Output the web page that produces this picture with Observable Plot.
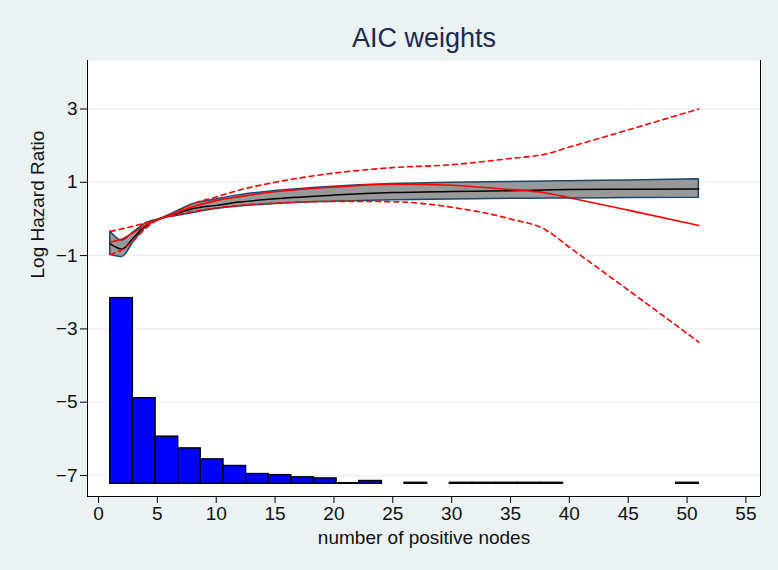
<!DOCTYPE html>
<html>
<head>
<meta charset="utf-8">
<script src="https://cdn.jsdelivr.net/npm/d3@7"></script>
<script src="https://cdn.jsdelivr.net/npm/@observablehq/plot@0.6"></script>
<style>
  html, body { margin: 0; padding: 0; background: #eaf2f3; }
</style>
</head>
<body>
<div id="chart"></div>
<script>
// Curve x positions (number of positive nodes)
const xs     = [1, 2, 3, 4, 5.2, 6.5, 8, 10, 12, 15, 20, 25, 30, 35, 38, 40, 45, 51];
// Model-averaged (AIC weights) estimate and its band
const fit    = [-0.68, -0.82, -0.50, -0.18, 0, 0.13, 0.28, 0.37, 0.46, 0.55, 0.65, 0.72, 0.75, 0.77, 0.79, 0.80, 0.81, 0.82];
const fitLo  = [-0.98, -1.04, -0.62, -0.24, 0, 0.07, 0.16, 0.27, 0.34, 0.41, 0.47, 0.51, 0.53, 0.55, 0.56, 0.56, 0.57, 0.58];
const fitHi  = [-0.34, -0.59, -0.36, -0.12, 0, 0.18, 0.40, 0.53, 0.65, 0.76, 0.88, 0.95, 0.99, 1.01, 1.02, 1.03, 1.05, 1.08];
// Single spline model estimate and its confidence limits
const rcs    = [-0.63, -0.55, -0.36, -0.17, 0, 0.15, 0.33, 0.50, 0.61, 0.74, 0.87, 0.95, 0.92, 0.80, 0.71, 0.58, 0.24, -0.18];
const rcsHi  = [-0.34, -0.27, -0.19, -0.11, 0, 0.17, 0.41, 0.60, 0.79, 1.00, 1.25, 1.40, 1.48, 1.65, 1.77, 1.96, 2.43, 3.00];
const rcsLo  = [-0.97, -0.84, -0.58, -0.26, 0, 0.10, 0.20, 0.30, 0.37, 0.43, 0.48, 0.47, 0.32, 0.00, -0.30, -0.77, -1.94, -3.36];

// Histogram of the covariate (rescaled to the y axis)
const binEdges = [1, 2.92, 4.85, 6.77, 8.69, 10.62, 12.54, 14.46, 16.38, 18.31, 20.23, 22.15, 24.08, 26, 27.92, 29.85, 31.77, 33.69, 35.62, 37.54, 39.46, 41.38, 43.31, 45.23, 47.15, 49.08, 51];
const histTop  = [-2.16, -4.89, -5.94, -6.26, -6.56, -6.74, -6.96, -6.99, -7.05, -7.08, -7.21, -7.15, null, -7.20, null, -7.20, -7.20, -7.20, -7.20, -7.20, null, null, null, null, null, -7.20];
const histBase = -7.225;

const xTicks = [0, 5, 10, 15, 20, 25, 30, 35, 40, 45, 50, 55];
const yTicks = [3, 1, -1, -3, -5, -7];
const xDomain = [-0.935, 56.24];
const yDomain = [-7.573, 4.323];

const titleText = "AIC weights";
const xLabel = "number of positive nodes";
const yLabel = "Log Hazard Ratio";

const curves = xs.map((x, i) => ({x, fit: fit[i], lo: fitLo[i], hi: fitHi[i], rcs: rcs[i], rcsLo: rcsLo[i], rcsHi: rcsHi[i]}));
const bins = histTop.map((t, i) => ({x1: binEdges[i], x2: binEdges[i + 1], top: t})).filter(d => d.top !== null);

const chart = Plot.plot({
  width: 778,
  height: 570,
  marginLeft: 87,
  marginRight: 18,
  marginTop: 60,
  marginBottom: 74,
  style: {fontFamily: "'Liberation Sans', Arial, Helvetica, sans-serif", fontSize: "19px", background: "#eaf2f3", color: "#111"},
  x: {domain: xDomain, ticks: xTicks},
  y: {domain: yDomain, ticks: yTicks},
  marks: [
    Plot.frame({fill: "white", stroke: null}),
    Plot.gridY(yTicks, {stroke: "#eaf2f3", strokeOpacity: 1, strokeWidth: 1.5}),
    Plot.rect(bins, {x1: "x1", x2: "x2", y1: () => histBase, y2: "top", fill: "#0000ff", stroke: "#000", strokeWidth: 1.4}),
    Plot.areaY(curves, {x: "x", y1: "lo", y2: "hi", fill: "#999999", stroke: "#1a476f", strokeWidth: 1.5, curve: "monotone-x"}),
    Plot.line(curves, {x: "x", y: "fit", stroke: "#000", strokeWidth: 1.5, curve: "monotone-x"}),
    Plot.line(curves, {x: "x", y: "rcs", stroke: "#ff0000", strokeWidth: 1.6, curve: "monotone-x"}),
    Plot.line(curves, {x: "x", y: "rcsHi", stroke: "#ff0000", strokeWidth: 1.6, strokeDasharray: "5,4", curve: "monotone-x"}),
    Plot.line(curves, {x: "x", y: "rcsLo", stroke: "#ff0000", strokeWidth: 1.6, strokeDasharray: "5,4", curve: "monotone-x"}),
    Plot.ruleX([xDomain[0], xDomain[1]], {stroke: "#000", strokeWidth: 1}),
    Plot.ruleY([yDomain[0]], {stroke: "#000", strokeWidth: 1}),
    Plot.axisX(xTicks, {tickSize: 7, tickPadding: 3, fontSize: 19, label: null, stroke: "#000"}),
    Plot.axisY(yTicks, {tickSize: 7, tickPadding: 3, fontSize: 19, label: null, stroke: "#000"}),
    Plot.text([titleText], {text: d => d, frameAnchor: "top", dy: -22, fontSize: 27, fill: "#1c2a4e", lineAnchor: "middle"}),
    Plot.text([xLabel], {text: d => d, frameAnchor: "bottom", dy: 41, fontSize: 19, fill: "#111", lineAnchor: "middle"}),
    Plot.text([yLabel], {text: d => d, frameAnchor: "left", dx: -50, rotate: -90, fontSize: 19, fill: "#111", lineAnchor: "middle"})
  ]
});
document.getElementById("chart").appendChild(chart);
</script>
</body>
</html>
